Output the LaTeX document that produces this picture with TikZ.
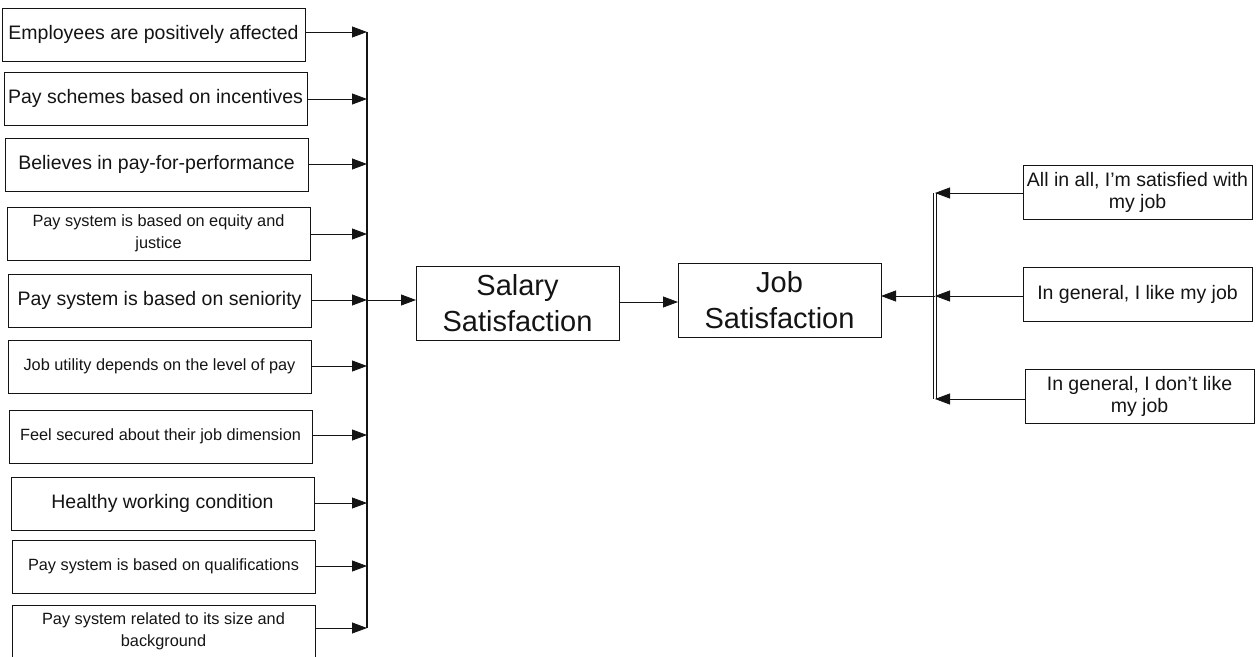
\documentclass[tikz,border=0pt]{standalone}
\usepackage{fontspec}
\setmainfont{Liberation Sans}
\usetikzlibrary{arrows.meta}
\definecolor{ink}{RGB}{20,20,20}
\begin{document}
\begin{tikzpicture}[x=1pt,y=-1pt,
  itembox/.style={draw=ink, line width=0.9pt, anchor=north west, inner sep=0pt, outer sep=0pt,
    minimum width=303pt, minimum height=53pt, align=center, text=ink},
  bigtxt/.style={font=\fontsize{19.5}{23}\selectfont},
  smalltxt/.style={font=\fontsize{16.3}{22}\selectfont},
  corebox/.style={draw=ink, line width=0.9pt, anchor=north west, inner sep=0pt, outer sep=0pt,
    minimum width=203pt, minimum height=74pt, align=center, text=ink,
    font=\fontsize{29}{36}\selectfont},
  rightbox/.style={draw=ink, line width=0.9pt, anchor=north west, inner sep=0pt, outer sep=0pt,
    minimum width=229pt, minimum height=54pt, align=center, text=ink,
    font=\fontsize{19.5}{22}\selectfont},
  link/.style={draw=ink, line width=0.8pt, -{Triangle[length=15pt,width=11pt]}},
  busbar/.style={draw=ink, line width=2pt},
  dblbar/.style={draw=ink, double=white, double distance=2pt, line width=0.7pt}
]
\useasboundingbox (0,0) rectangle (1257,656);

% factor boxes on the left
\node[itembox,bigtxt]   (f1)  at (2,8)    {Employees are positively affected};
\node[itembox,bigtxt]   (f2)  at (4,72)   {Pay schemes based on incentives};
\node[itembox,bigtxt]   (f3)  at (5,138)  {Believes in pay-for-performance};
\node[itembox,smalltxt] (f4)  at (7,207)  {Pay system is based on equity and\\justice};
\node[itembox,bigtxt]   (f5)  at (8,274)  {Pay system is based on seniority};
\node[itembox,smalltxt] (f6)  at (8,340)  {Job utility depends on the level of pay};
\node[itembox,smalltxt] (f7)  at (9,410)  {Feel secured about their job dimension};
\node[itembox,bigtxt]   (f8)  at (11,477) {Healthy working condition};
\node[itembox,smalltxt] (f9)  at (12,540) {Pay system is based on qualifications};
\node[itembox,smalltxt] (f10) at (12,605) {Pay system related to its size and\\background};

% collecting bar
\coordinate (b1)  at (367,32);
\coordinate (b2)  at (367,99);
\coordinate (b3)  at (367,164);
\coordinate (b4)  at (367,234);
\coordinate (b5)  at (367,300);
\coordinate (b6)  at (367,366);
\coordinate (b7)  at (367,435);
\coordinate (b8)  at (367,503);
\coordinate (b9)  at (367,566);
\coordinate (b10) at (367,628);
\draw[busbar] (b1) -- (b10);

\foreach \i in {1,...,10} {
  \draw[link] (f\i.east |- b\i) -- (b\i);
}

% core constructs
\node[corebox] (sal) at (416,266) {Salary\\Satisfaction};
\node[corebox] (job) at (678,263) {Job\\Satisfaction};
\draw[link] (b5) -- (sal.west |- b5);
\draw[link] (sal.east |- 0,302) -- (job.west |- 0,302);

% indicator boxes on the right
\node[rightbox] (r1) at (1023,165) {All in all, I’m satisfied with\\my job};
\node[rightbox] (r2) at (1023,267) {In general, I like my job};
\node[rightbox] (r3) at (1025,369) {In general, I don’t like\\my job};

\coordinate (c1) at (935,193);
\coordinate (c2) at (935,296);
\coordinate (c3) at (935,399);
\draw[dblbar] (c1) -- (c3);
\foreach \i in {1,2,3} {
  \draw[link] (r\i.west |- c\i) -- (c\i);
}
\draw[link] (c2) -- (job.east |- c2);
\end{tikzpicture}
\end{document}
